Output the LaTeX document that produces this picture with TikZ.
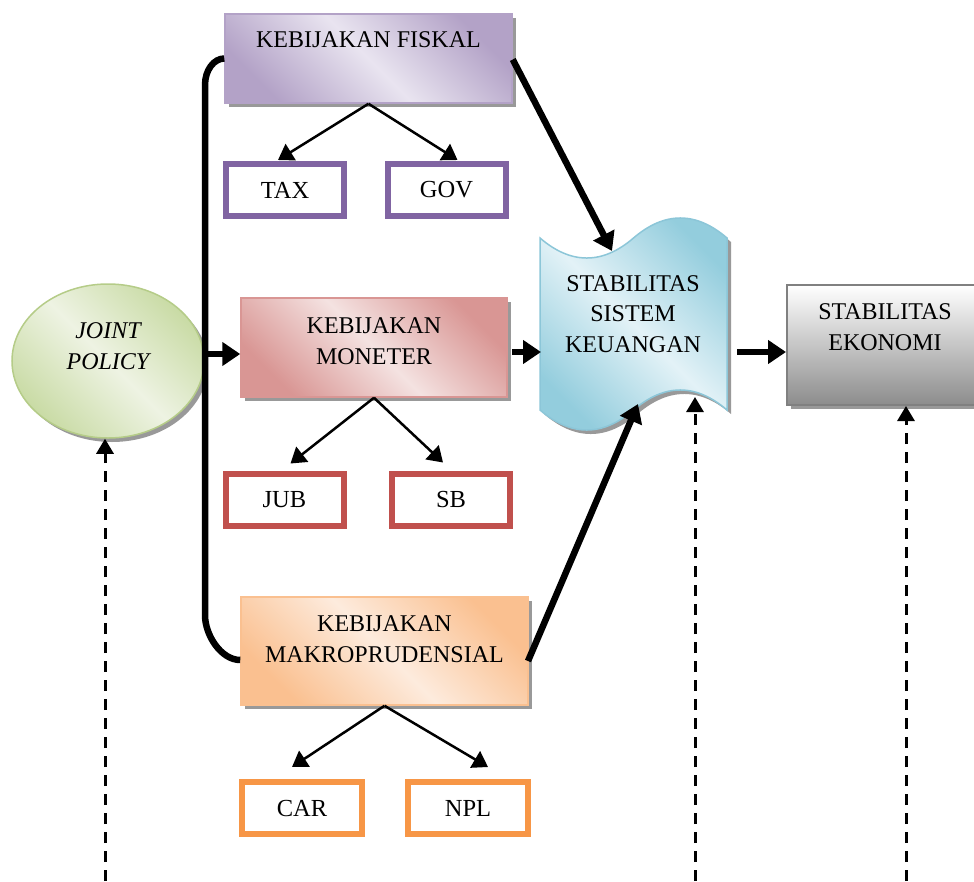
\documentclass[tikz,border=0pt]{standalone}
\usepackage{fontspec}
\setmainfont{Liberation Serif}
\usetikzlibrary{arrows.meta,shadows,shapes.geometric}
\definecolor{purpD}{HTML}{B3A2C7}
\definecolor{purpL}{HTML}{E9E4F0}
\definecolor{purpB}{HTML}{8064A2}
\definecolor{redD}{HTML}{D99694}
\definecolor{redL}{HTML}{F4E2E1}
\definecolor{redB}{HTML}{C0504D}
\definecolor{orgD}{HTML}{FAC090}
\definecolor{orgL}{HTML}{FDEBDD}
\definecolor{orgB}{HTML}{F79646}
\definecolor{grnD}{HTML}{C9DBA5}
\definecolor{grnL}{HTML}{EEF3E3}
\definecolor{grnB}{HTML}{B5CC88}
\definecolor{bluD}{HTML}{93CDDD}
\definecolor{bluL}{HTML}{E3F2F7}
\definecolor{bluB}{HTML}{8CC6D8}
\begin{document}
\begin{tikzpicture}[x=1pt,y=-1pt,
  txt/.style={font=\fontsize{24}{30.5}\selectfont, align=center, inner sep=0pt},
  shadowed/.style={drop shadow={shadow xshift=4pt, shadow yshift=-4pt, fill=black!40, opacity=1}},
  policybox/.style={draw=#1, line width=1.5pt, inner sep=0pt, shadowed},
  smallbox/.style={draw=#1, line width=6pt, fill=white, minimum width=118pt, minimum height=52pt, inner sep=0pt, font=\fontsize{24.5}{30}\selectfont},
  thinarrow/.style={line width=2.5pt, -{Triangle[length=15pt,width=19pt]}},
  bigarrow/.style={line width=6.5pt, -{Triangle[length=18pt,width=23pt]}},
  bracketline/.style={line width=6.5pt},
  dasharrow/.style={line width=3pt, dash pattern=on 11pt off 8pt, -{Triangle[length=15pt,width=17pt]}}
]
\useasboundingbox (0,0) rectangle (974,881);
\clip (0,0) rectangle (974,881);

% policy boxes
\node[policybox=purpD, minimum width=287pt, minimum height=89pt,
  left color=purpD, right color=purpD, middle color=purpL, shading angle=135] (fiskal) at (368.5,58.5) {};
\node[txt] (fiskaltxt) at (368.5,40) {KEBIJAKAN FISKAL};

\node[policybox=redD, minimum width=266pt, minimum height=99pt,
  left color=redD, right color=redD, middle color=redL, shading angle=135] (moneter) at (374,347.5) {};
\node[txt] (monetertxt) at (374,341) {KEBIJAKAN\\MONETER};

\node[policybox=orgD, minimum width=287pt, minimum height=108pt,
  left color=orgD, right color=orgD, middle color=orgL, shading angle=135] (makro) at (384.5,651) {};
\node[txt] (makrotxt) at (384.5,639) {KEBIJAKAN\\MAKROPRUDENSIAL};

% joint policy
\node[ellipse, draw=grnB, line width=1.5pt, minimum width=192pt, minimum height=154pt, inner sep=0pt, shadowed,
  left color=grnD, right color=grnD, middle color=grnL, shading angle=135] (joint) at (108,361) {};
\node[txt, font=\fontsize{24}{31}\selectfont\itshape] (jointtxt) at (108,346) {JOINT\\POLICY};

% small boxes
\node[smallbox=purpB] (tax) at (285,190) {TAX};
\node[smallbox=purpB] (gov) at (446.5,190) {GOV};
\node[smallbox=redB] (jub) at (284.5,499.5) {JUB};
\node[smallbox=redB] (sb) at (451,499.5) {SB};
\node[smallbox=orgB, minimum width=120pt] (car) at (302,808) {CAR};
\node[smallbox=orgB, minimum width=120pt] (npl) at (468,808) {NPL};

% stabilitas sistem keuangan (punched tape)
\path[draw=bluB, line width=1.5pt, shadowed,
  left color=bluD, right color=bluD, middle color=bluL, shading angle=135]
  (540,238) .. controls (571,264.7) and (602.5,264.7) .. (633.5,238)
  .. controls (664.6,211.3) and (696,211.3) .. (727,238)
  -- (727,410)
  .. controls (696,383.3) and (664.6,383.3) .. (633.5,410)
  .. controls (602.5,436.7) and (571,436.7) .. (540,410) -- cycle;
\node[txt] (ssk) at (633,314) {STABILITAS\\SISTEM\\KEUANGAN};
\coordinate (sskTop) at (612,251);
\coordinate (sskBot) at (638,404);
\coordinate (sskL) at (541,352);
\coordinate (sskR) at (737,352);
\coordinate (sskDash) at (695,397);

% stabilitas ekonomi
\node[draw=black!50, line width=2pt, minimum width=203pt, minimum height=120pt, inner sep=0pt, shadowed,
  top color=white, bottom color=black!45] (se) at (888.5,345) {};
\node[txt] (setxt) at (885,327) {STABILITAS\\EKONOMI};

% bracket
\draw[bracketline] (fiskal.west) .. controls (214,58.5) and (205,70) .. (205,85)
  -- (205,615) .. controls (205,635) and (221,660) .. ([yshift=-9pt]makro.west);
\coordinate (jp) at (205,354);
\draw[bigarrow] (jp) -- (jp -| moneter.west);

% thick arrows
\coordinate (monR) at (512,352);
\draw[bigarrow] (monR) -- (sskL);
\draw[bigarrow] ([yshift=-1pt]fiskal.east) -- (sskTop);
\coordinate (makR) at (528,661);
\draw[bigarrow] (makR) -- (sskBot);
\draw[bigarrow] (sskR) -- (sskR -| se.west);

% thin arrows
\draw[thinarrow] (fiskal.south) -- ([xshift=-7pt,yshift=1pt]tax.north);
\draw[thinarrow] (fiskal.south) -- ([xshift=11pt,yshift=1pt]gov.north);
\draw[thinarrow] (moneter.south) -- ([xshift=6pt,yshift=7pt]jub.north);
\draw[thinarrow] (moneter.south) -- ([xshift=-8pt,yshift=8pt]sb.north);
\draw[thinarrow] (makro.south) -- ([xshift=-10pt,yshift=12pt]car.north);
\draw[thinarrow] (makro.south) -- ([xshift=20pt,yshift=12pt]npl.north);

% dashed arrows
\coordinate (d1) at (105,881);
\coordinate (d2) at (695,881);
\coordinate (d3) at (906,881);
\draw[dasharrow] (d1) -- (d1 |- joint.south);
\draw[dasharrow] (d2) -- (sskDash);
\draw[dasharrow] (d3) -- (d3 |- se.south);
\end{tikzpicture}
\end{document}
